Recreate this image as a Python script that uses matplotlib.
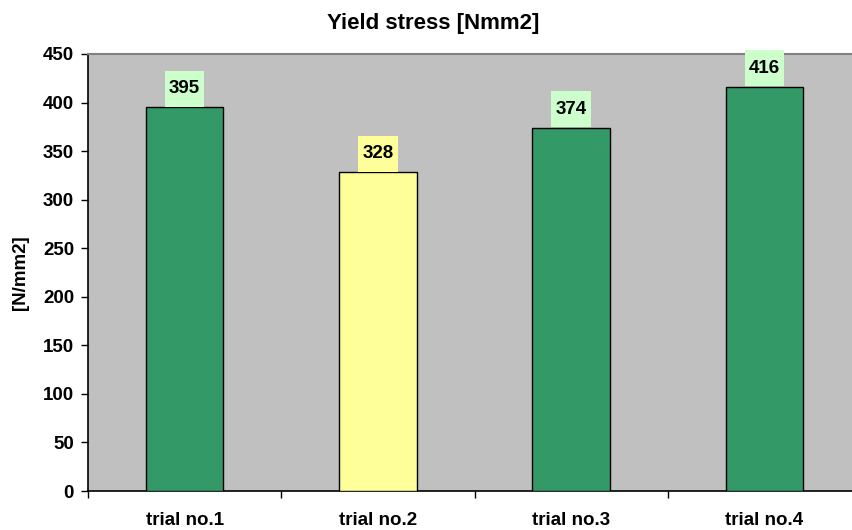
import matplotlib
matplotlib.use("Agg")
import matplotlib.pyplot as plt
from matplotlib.path import Path

categories = ["trial no.1", "trial no.2", "trial no.3", "trial no.4"]
values = [395, 328, 374, 416]
bar_colors = ["#339966", "#FFFF99", "#339966", "#339966"]
label_bg = ["#CCFFCC", "#FFFF99", "#CCFFCC", "#CCFFCC"]
yticks = [0, 50, 100, 150, 200, 250, 300, 350, 400, 450]

plt.rcParams['font.family'] = ['Liberation Sans', 'DejaVu Sans']

fig = plt.figure(figsize=(8.52, 5.30), dpi=100)
W, H = 852, 530
left, right, top, bottom = 88, 861, 54, 491
ax = fig.add_axes([left / W, 1 - bottom / H, (right - left) / W, (bottom - top) / H])
ax.set_facecolor("#C0C0C0")

x = list(range(len(categories)))
ax.bar(x, values, width=0.4, color=bar_colors, edgecolor="black", linewidth=1.0, zorder=3)


def label_box(x0, y0, width, height, mutation_size):
    padx = 0.22 * mutation_size
    pady = 0.5 * mutation_size
    xa, ya = x0 - padx, y0 - pady
    xb, yb = x0 + width + padx, y0 + height + pady
    return Path([(xa, ya), (xb, ya), (xb, yb), (xa, yb), (xa, ya)], closed=True)


for xi, v, bg in zip(x, values, label_bg):
    ax.annotate(str(v), (xi, v), xytext=(0, 13.5), textcoords="offset points",
                ha="center", va="center", fontsize=13.5, fontweight="bold",
                bbox=dict(boxstyle=label_box, facecolor=bg, edgecolor="none"),
                zorder=4)

ax.set_xlim(-0.5, len(categories) - 0.5)
ax.set_ylim(0, 450)
ax.set_yticks(yticks)
ax.set_yticklabels([str(t) for t in yticks], fontsize=13.5, fontweight="bold")
ax.set_xticks([i + 0.5 for i in range(-1, len(categories))])
ax.set_xticklabels([])
ax.set_xticks(x, minor=True)
ax.set_xticklabels(categories, minor=True, fontsize=13.5, fontweight="bold")
ax.tick_params(axis="x", which="minor", length=0, pad=15)
ax.tick_params(axis="x", which="major", length=5, width=1, direction="out", colors="black")
ax.tick_params(axis="y", length=5, width=1, direction="out", pad=5)

ax.spines["top"].set_color("#808080")
ax.spines["top"].set_linewidth(1.5)
ax.spines["right"].set_visible(False)
ax.spines["left"].set_color("black")
ax.spines["bottom"].set_color("black")
ax.spines["left"].set_linewidth(1.2)
ax.spines["bottom"].set_linewidth(1.2)

ax.set_ylabel("[N/mm2]", fontsize=13.5, fontweight="bold", labelpad=10)
fig.text(433 / W, 1 - 23 / H, "Yield stress [Nmm2]", ha="center", va="center",
         fontsize=16, fontweight="bold")

fig.savefig("out.png", dpi=100)
